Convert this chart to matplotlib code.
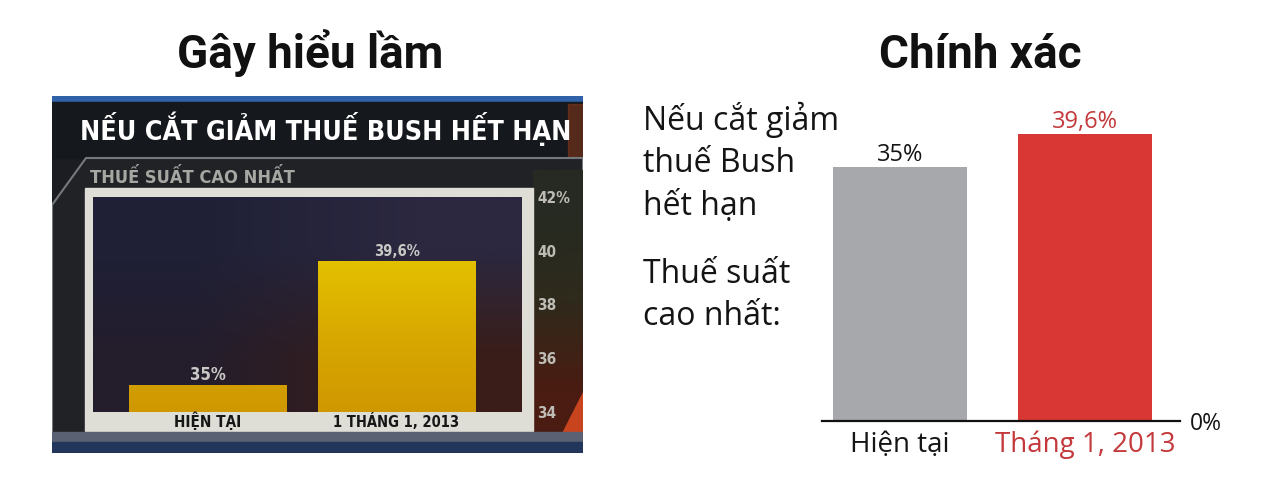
import matplotlib
matplotlib.use("Agg")
import matplotlib.pyplot as plt
import numpy as np
from matplotlib import font_manager
from matplotlib.patches import Rectangle, Polygon
from matplotlib.colors import LinearSegmentedColormap, to_rgb
from matplotlib.transforms import offset_copy

# --- data -------------------------------------------------------------
tv_categories = ["HIỆN TẠI", "1 THÁNG 1, 2013"]
tv_values = [35, 39.6]
tv_value_labels = ["35%", "39,6%"]
tv_yticks = [34, 36, 38, 40, 42]
tv_ytick_labels = ["34", "36", "38", "40", "42%"]

fix_categories = ["Hiện tại", "Tháng 1, 2013"]
fix_values = [35, 39.6]
fix_value_labels = ["35%", "39,6%"]
fix_side_text = ["Nếu cắt giảm", "thuế Bush", "hết hạn", "Thuế suất", "cao nhất:"]

# --- helpers (pixel layout of a 1264x480 canvas) ----------------------
W, H = 1264, 480


def fx(x):
    return x / W


def fy(y):
    return 1 - y / H


def box(x0, y0, x1, y1):
    return [x0 / W, 1 - y1 / H, (x1 - x0) / W, (y1 - y0) / H]


# a narrow bold face for the TV graphic, if one is around
fonts = font_manager.fontManager.ttflist
names = {f.name for f in fonts}
if "Liberation Sans Narrow" in names:
    NARROW = dict(family=["Liberation Sans Narrow", "DejaVu Sans"])
elif any(f.name == "DejaVu Sans" and "condensed" in str(f.stretch) for f in fonts):
    NARROW = dict(family=["DejaVu Sans"], fontstretch="condensed")
else:
    NARROW = dict(family=["Roboto", "DejaVu Sans"])
BODY = ["Open Sans", "DejaVu Sans"]
HEAD = ["Roboto", "DejaVu Sans"]

fig = plt.figure(figsize=(12.64, 4.8), dpi=100, facecolor="white")
renderer = fig.canvas.get_renderer()


def fit(t, width_px):
    # shrink/grow a text so it spans about the same width as in the picture
    w = t.get_window_extent(renderer).width
    t.set_fontsize(t.get_fontsize() * width_px / w)


fig.text(fx(310), fy(68), "Gây hiểu lầm", family=HEAD, weight="bold",
         fontsize=33, ha="center", va="baseline", color="#111111")
fig.text(fx(980), fy(68), "Chính xác", family=HEAD, weight="bold",
         fontsize=33, ha="center", va="baseline", color="#111111")

# --- left: the TV screenshot look --------------------------------------
bg = fig.add_axes(box(52, 96, 583, 453))
bg.set_xlim(52, 583)
bg.set_ylim(453, 96)
bg.axis("off")

bg.add_patch(Rectangle((52, 96), 531, 357, color="#1b1d22", zorder=0))
bg.add_patch(Rectangle((52, 96), 531, 6, color="#2f62a8", zorder=1))
bg.add_patch(Rectangle((52, 102), 531, 56, color="#15181c", zorder=1))
bg.add_patch(Rectangle((568, 104), 15, 66, color="#8a3a1a", alpha=0.55, zorder=1))
bg.add_patch(Polygon([(52, 205), (86, 158), (583, 158), (583, 453), (52, 453)],
                     closed=True, facecolor="#202226", edgecolor="#75787c",
                     linewidth=1.5, zorder=2))

side = np.array([[to_rgb("#262a22")], [to_rgb("#2f2a1c")], [to_rgb("#4a1c12")]])
bg.imshow(side, extent=(533, 583, 432, 170), aspect="auto",
          interpolation="bilinear", zorder=3)
bg.add_patch(Polygon([(583, 392), (583, 453), (552, 453)], closed=True,
                     color="#c8441f", zorder=4))
bg.add_patch(Rectangle((85, 188), 448, 243, color="#deded6", zorder=5))
bg.add_patch(Rectangle((52, 432), 531, 10, color="#5a6172", zorder=5))
bg.add_patch(Rectangle((52, 442), 531, 11, color="#22355a", zorder=5))

title = bg.text(80, 140, "NẾU CẮT GIẢM THUẾ BUSH HẾT HẠN", weight="bold",
                fontsize=22, color="white", va="baseline", zorder=6, **NARROW)
fit(title, 488)
sub = bg.text(90, 183, "THUẾ SUẤT CAO NHẤT", weight="bold", fontsize=13,
              color="#a6a6a2", va="baseline", zorder=6, **NARROW)
fit(sub, 204)

ax1 = fig.add_axes(box(93, 197, 522, 412))
shade = np.array([[to_rgb("#1f2036"), to_rgb("#2b2840")],
                  [to_rgb("#241d2c"), to_rgb("#3a1d18")]])
ax1.imshow(shade, extent=(0, 1, 0, 1), transform=ax1.transAxes,
           aspect="auto", interpolation="bilinear", zorder=0)

x1 = np.arange(len(tv_values))
bars = ax1.bar(x1, tv_values, width=0.836, color="#d6a200", zorder=2)
gold = LinearSegmentedColormap.from_list("gold", ["#cf9800", "#d9aa00", "#e4c400"])
ramp = np.linspace(0, 1, 64).reshape(-1, 1)
for b in bars:
    im = ax1.imshow(ramp, cmap=gold, origin="lower", aspect="auto",
                    extent=(b.get_x(), b.get_x() + b.get_width(), 34, 40), zorder=3)
    im.set_clip_path(b)

ax1.set_xlim(-0.606, 1.664)
ax1.set_ylim(34, 42)

up1 = offset_copy(ax1.transData, fig=fig, y=5, units="dots")
down1 = offset_copy(ax1.transData, fig=fig, y=-15, units="dots")
value_w = [36, 46]
cat_w = [68, 126]
for i, (v, lab, cat) in enumerate(zip(tv_values, tv_value_labels, tv_categories)):
    t = ax1.text(i, v, lab, transform=up1, ha="center", va="baseline",
                 weight="bold", fontsize=10.5, color="#c9c9c6", zorder=4, **NARROW)
    fit(t, value_w[i])
    t = ax1.text(i, 34, cat, transform=down1, ha="center", va="baseline",
                 weight="bold", fontsize=11.5, color="#161616",
                 clip_on=False, zorder=4, **NARROW)
    fit(t, cat_w[i])

ax1.yaxis.tick_right()
ax1.set_yticks(tv_yticks)
ax1.set_yticklabels(tv_ytick_labels, weight="bold", fontsize=11,
                    color="#bdbdb5", **NARROW)
ax1.set_xticks([])
ax1.tick_params(axis="y", length=0, pad=11)
for s in ax1.spines.values():
    s.set_visible(False)

# --- right: the honest version -----------------------------------------
for text, base in zip(fix_side_text, [130, 172, 215, 283, 325]):
    fig.text(fx(643), fy(base), text, family=BODY, fontsize=23,
             va="baseline", color="#141414")

ax2 = fig.add_axes(box(822, 131, 1180, 421))
x2 = np.arange(len(fix_values))
ax2.bar(x2, fix_values, width=0.724, color=["#a7a8ac", "#d93733"], zorder=2)
ax2.set_xlim(-0.42, 1.514)
ax2.set_ylim(0, 40)

up2 = offset_copy(ax2.transData, fig=fig, y=6, units="dots")
down2 = offset_copy(ax2.transData, fig=fig, y=-31, units="dots")
label_colors = ["#151515", "#c4393b"]
for i, (v, lab, cat) in enumerate(zip(fix_values, fix_value_labels, fix_categories)):
    ax2.text(i, v, lab, transform=up2, ha="center", va="baseline",
             family=BODY, fontsize=17, color=label_colors[i])
    ax2.text(i, 0, cat, transform=down2, ha="center", va="baseline",
             family=BODY, fontsize=20, color=label_colors[i], clip_on=False)

ax2.yaxis.tick_right()
ax2.set_yticks([0])
ax2.set_yticklabels(["0%"], family=BODY, fontsize=16.5, color="#151515")
ax2.tick_params(axis="y", length=0, pad=7)
ax2.set_xticks([])
for name in ["top", "left", "right"]:
    ax2.spines[name].set_visible(False)
ax2.spines["bottom"].set_linewidth(1.6)
ax2.spines["bottom"].set_color("#111111")
ax2.set_facecolor("none")

fig.savefig("out.png", dpi=100, facecolor="white")
